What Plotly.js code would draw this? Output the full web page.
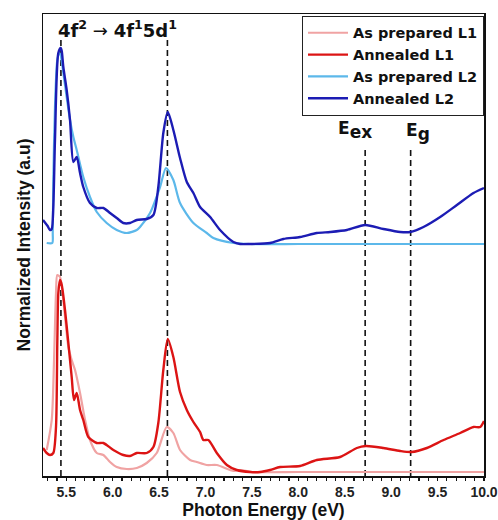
<!DOCTYPE html>
<html>
<head>
<meta charset="utf-8">
<script src="https://cdn.plot.ly/plotly-3.0.1.min.js"></script>
<style>html,body{margin:0;padding:0;background:#fff;}#chart{width:498px;height:520px;}</style>
</head>
<body>
<div id="chart"></div>
<script>
// Annealed L2 (dark blue)
const annL2_x = [5.25,5.30,5.325,5.344,5.361,5.379,5.415,5.441,5.452,5.469,5.505,5.541,5.577,5.613,5.649,5.684,5.756,5.829,5.90,5.972,6.044,6.115,6.187,6.26,6.367,6.439,6.492,6.546,6.594,6.654,6.726,6.799,6.87,6.942,7.05,7.157,7.301,7.373,7.481,7.696,7.839,8.019,8.199,8.343,8.523,8.72,8.917,9.097,9.205,9.348,9.528,9.708,9.887,10.0];
const annL2_y = [256,250,246,247,269,336,423,428,425,409,386,356,314,319,303,289,273,268,268,263,258,253,253,256,257,261,289,343,364,346,318,294,283,269,259,246,234,232,232,233,237,239,243,244,246,251,247,244,244,249,259,271,283,288];
// As prepared L2 (light blue)
const prepL2_x = [5.29,5.35,5.355,5.361,5.379,5.404,5.426,5.44,5.469,5.505,5.541,5.577,5.613,5.684,5.756,5.829,5.936,6.044,6.152,6.26,6.295,6.403,6.511,6.575,6.654,6.726,6.87,7.014,7.085,7.301,7.481,8.0,8.5,9.0,9.5,10.0];
const prepL2_y = [233,233,243,296,369,416,423,421,403,379,356,339,326,299,279,264,253,246,243,246,249,263,289,308,296,273,253,243,238,233,232,232,232,232,232,232];
// Annealed L1 (red)
const annL1_x = [5.25,5.29,5.325,5.361,5.39,5.404,5.415,5.433,5.452,5.487,5.523,5.559,5.584,5.613,5.649,5.684,5.738,5.829,5.90,6.008,6.115,6.187,6.26,6.367,6.439,6.492,6.546,6.594,6.654,6.726,6.799,6.87,6.942,6.977,7.031,7.122,7.23,7.337,7.481,7.588,7.696,7.804,8.019,8.199,8.45,8.63,8.727,8.917,9.097,9.219,9.385,9.564,9.744,9.887,9.959,10.0];
const annL1_y = [28,23,21,23,49,133,183,196,191,166,133,99,76,83,66,56,39,33,33,26,21,20,23,23,29,53,106,137,119,84,66,54,44,36,36,23,11,6,4,4,6,9,10,16,19,28,30,28,25,24,28,36,43,49,49,55];
// As prepared L1 (pink)
const prepL1_x = [5.29,5.344,5.369,5.39,5.404,5.433,5.469,5.523,5.559,5.595,5.649,5.703,5.756,5.829,5.90,5.972,6.044,6.152,6.26,6.367,6.475,6.583,6.654,6.726,6.834,6.906,7.014,7.122,7.301,7.373,7.5,8.0,8.5,9.0,9.5,10.0];
const prepL1_y = [26,56,116,183,201,199,176,129,116,106,83,56,36,23,21,14,9,7,8,13,23,49,43,26,16,14,11,11,5,6,4,4,4,4,4,4];

const seriesNames = ["As prepared L1","Annealed L1","As prepared L2","Annealed L2"];
const seriesColors = ["#f0a3a3","#dc1414","#5cb8ea","#1c1cb4"];

// reference energies (dashed lines) and their top extents
const refEnergies = [5.443, 6.59, 8.72, 9.21];
const refTops = [438, 438, 329, 329];

const xs = [prepL1_x, annL1_x, prepL2_x, annL2_x];
const ys = [prepL1_y, annL1_y, prepL2_y, annL2_y];
const widths = [2.2, 2.4, 2.2, 2.4];

const traces = xs.map((x, i) => ({
  x: x, y: ys[i], type: 'scatter', mode: 'lines', name: seriesNames[i],
  line: {color: seriesColors[i], width: widths[i], shape: 'spline', smoothing: 0.7}
}));

const shapes = refEnergies.map((e, i) => ({
  type: 'line', xref: 'x', yref: 'y', x0: e, x1: e, y0: 0, y1: refTops[i],
  line: {color: '#111', width: 1.6, dash: '6px,4px'}, layer: 'below'
}));

const FW = '"DejaVu Sans", Verdana, sans-serif';
const F = 'Arial, "Liberation Sans", sans-serif';
const layout = {
  width: 498, height: 520,
  margin: {l: 43, r: 14, t: 14, b: 44},
  paper_bgcolor: '#fff', plot_bgcolor: '#fff',
  showlegend: true,
  legend: {x: 1, xanchor: 'right', y: 0.996, yanchor: 'top',
    bordercolor: '#222', borderwidth: 1, bgcolor: '#fff',
    font: {family: FW, size: 14.5, color: '#111', weight: 'bold'},
    tracegroupgap: 0, itemwidth: 40},
  xaxis: {range: [5.25, 10.0], showline: true, linecolor: '#111', linewidth: 1.5, mirror: true,
    ticks: 'outside', ticklen: 3, tickwidth: 1.2, tickcolor: '#111', dtick: 0.5, tick0: 5.5,
    tickformat: '.1f', showgrid: false, zeroline: false, ticklabeloverflow: 'allow',
    minor: {dtick: 0.1, ticks: 'outside', ticklen: 3, tickcolor: '#111', showgrid: false},
    tickfont: {family: F, size: 14, color: '#222', weight: 'bold'},
    title: {text: '<b>Photon Energy (eV)</b>', font: {family: F, size: 17.5, color: '#111'}, standoff: 6}},
  yaxis: {range: [0, 462], showline: true, linecolor: '#111', linewidth: 1.5, mirror: true,
    ticks: '', showticklabels: false, showgrid: false, zeroline: false,
    title: {text: '<b>Normalized Intensity (a.u)</b>', font: {family: F, size: 17.5, color: '#111'}, standoff: 6}},
  shapes: shapes,
  annotations: [
    {xref: 'x', yref: 'y', x: 6.05, y: 447, xanchor: 'center', yanchor: 'middle', showarrow: false,
     text: '<b>4f<sup>2</sup></b> → <b>4f<sup>1</sup>5d<sup>1</sup></b>',
     font: {family: FW, size: 18, color: '#111'}},
    {xref: 'x', yref: 'y', x: 8.61, y: 346, xanchor: 'center', yanchor: 'middle', showarrow: false,
     text: '<b>E<sub><span style="font-size:17px">ex</span></sub></b>', font: {family: FW, size: 17, color: '#111'}},
    {xref: 'x', yref: 'y', x: 9.29, y: 344, xanchor: 'center', yanchor: 'middle', showarrow: false,
     text: '<b>E<sub><span style="font-size:17px">g</span></sub></b>', font: {family: FW, size: 17, color: '#111'}}
  ]
};

Plotly.newPlot('chart', traces, layout, {displayModeBar: false, staticPlot: true});
</script>
</body>
</html>
